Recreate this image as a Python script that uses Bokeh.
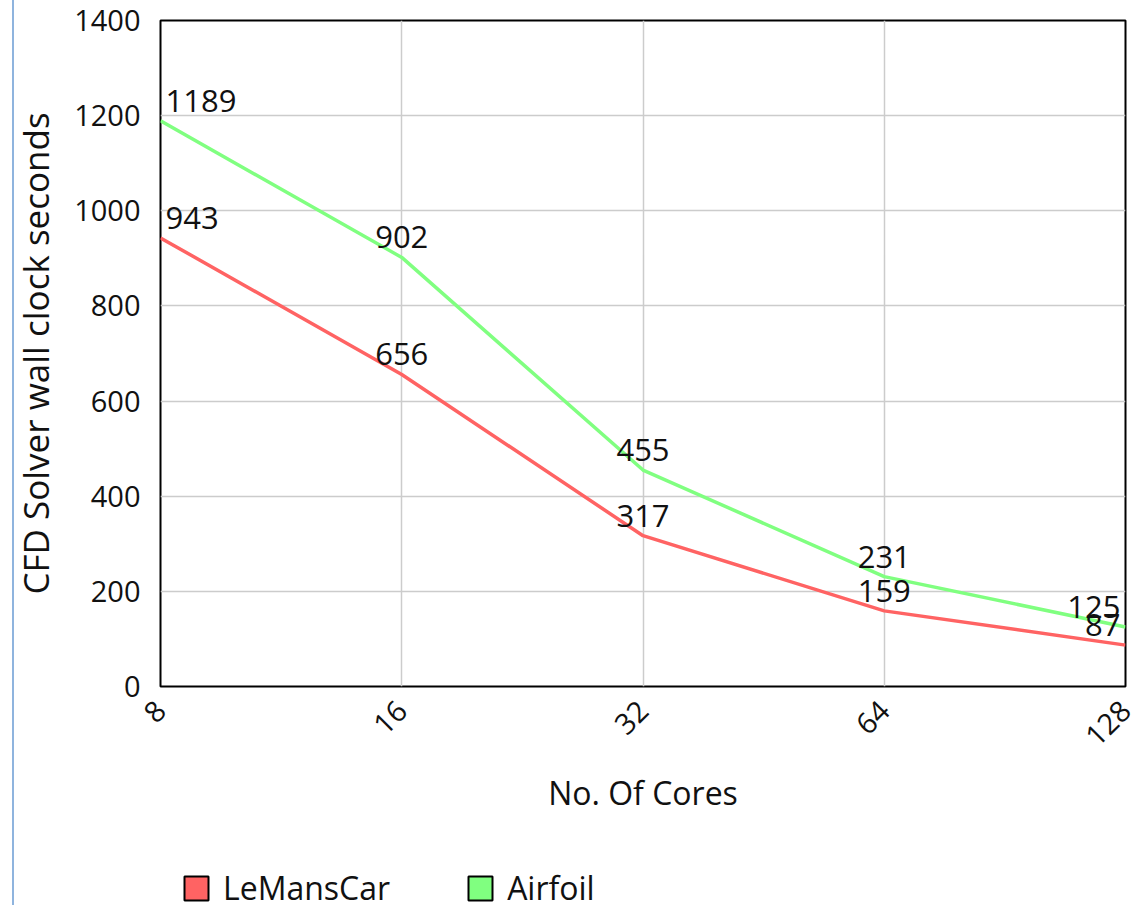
from bokeh.plotting import figure
from bokeh.layouts import column
from bokeh.models import FixedTicker, Legend, LegendItem, ColumnDataSource
from bokeh.core.properties import value
from bokeh.embed import file_html
from bokeh.resources import INLINE

cores = [8, 16, 32, 64, 128]
core_labels = ["8", "16", "32", "64", "128"]
lemans = [943, 656, 317, 159, 87]
airfoil = [1189, 902, 455, 231, 125]
series_names = ["LeMansCar", "Airfoil"]
y_ticks = [0, 200, 400, 600, 800, 1000, 1200, 1400]

RED = "#ff6363"
GREEN = "#80ff80"
FONT = "Open Sans"
TXT = "#111111"
NAN = float("nan")
BG = {"background": "linear-gradient(to right, white 12px, #8fb4de 12px, #8fb4de 14px, white 14px)"}

p = figure(width=1145, height=850, output_backend="svg", toolbar_location=None,
           x_axis_type="log", x_range=(8, 128), y_range=(0, 1400),
           min_border_left=160, min_border_right=20, min_border_top=20,
           min_border_bottom=164)

p.outline_line_color = "black"
p.outline_line_width = 2
p.background_fill_color = "white"
p.border_fill_alpha = 0
p.styles = BG

# axes
p.xaxis.ticker = FixedTicker(ticks=cores)
p.xaxis.major_label_overrides = {c: l for c, l in zip(cores, core_labels)}
p.xaxis.major_label_orientation = 0.785398
p.yaxis.ticker = FixedTicker(ticks=y_ticks)
for ax in (p.xaxis, p.yaxis):
    ax.major_tick_line_color = None
    ax.minor_tick_line_color = None
    ax.axis_line_color = None
    ax.major_label_text_font = FONT
    ax.major_label_text_font_size = "29px"
    ax.major_label_text_color = TXT
    ax.axis_label_text_font = FONT
    ax.axis_label_text_font_style = "normal"
    ax.axis_label_text_color = TXT
p.xaxis.axis_label = "No. Of Cores"
p.yaxis.axis_label = "CFD Solver wall clock seconds"
p.xaxis.axis_label_text_font_size = "32px"
p.yaxis.axis_label_text_font_size = "35px"
p.yaxis.major_label_standoff = 14
p.xaxis.major_label_standoff = 13
p.xaxis.axis_label_standoff = 12
p.yaxis.axis_label_standoff = 12

p.xgrid.grid_line_color = "#cccccc"
p.ygrid.grid_line_color = "#cccccc"
p.xgrid.grid_line_width = 1.5
p.ygrid.grid_line_width = 1.5

# lines
p.line(cores, lemans, line_color=RED, line_width=3.5)
p.line(cores, airfoil, line_color=GREEN, line_width=3.5)

# data labels
n = len(cores)
aligns = ["left" if i == 0 else ("right" if i == n - 1 else "center") for i in range(n)]
xoff = [5 if i == 0 else (-5 if i == n - 1 else 0) for i in range(n)]
for vals in (lemans, airfoil):
    src = ColumnDataSource(dict(x=cores, y=vals, t=[str(v) for v in vals],
                                a=aligns, xo=xoff))
    p.text(x="x", y="y", text="t", source=src, text_align="a", x_offset="xo",
           y_offset=-20, text_baseline="alphabetic",
           text_font=value(FONT), text_font_size="31px", text_color=TXT)

# legend strip below the chart
q = figure(width=1145, height=55, output_backend="svg", toolbar_location=None,
           x_range=(0, 1), y_range=(0, 1), x_axis_location=None,
           y_axis_location=None, min_border=0)
q.outline_line_color = None
q.grid.visible = False
q.border_fill_alpha = 0
q.background_fill_alpha = 0
q.styles = BG
s1 = q.quad(left=[NAN], right=[NAN], top=[NAN], bottom=[NAN], fill_color=RED,
            line_color="black", line_width=2)
s2 = q.quad(left=[NAN], right=[NAN], top=[NAN], bottom=[NAN], fill_color=GREEN,
            line_color="black", line_width=2)
legend = Legend(items=[LegendItem(label=series_names[0], renderers=[s1]),
                       LegendItem(label=series_names[1], renderers=[s2])],
                orientation="horizontal", location=(21, -4),
                glyph_width=30, glyph_height=30, label_standoff=12, spacing=75,
                padding=0, margin=0,
                border_line_color=None, background_fill_alpha=0,
                label_text_font=FONT, label_text_font_size="32px",
                label_text_color=TXT)
q.add_layout(legend, "center")

layout = column(p, q, spacing=0)
open("out.html", "w").write(file_html(layout, INLINE))
